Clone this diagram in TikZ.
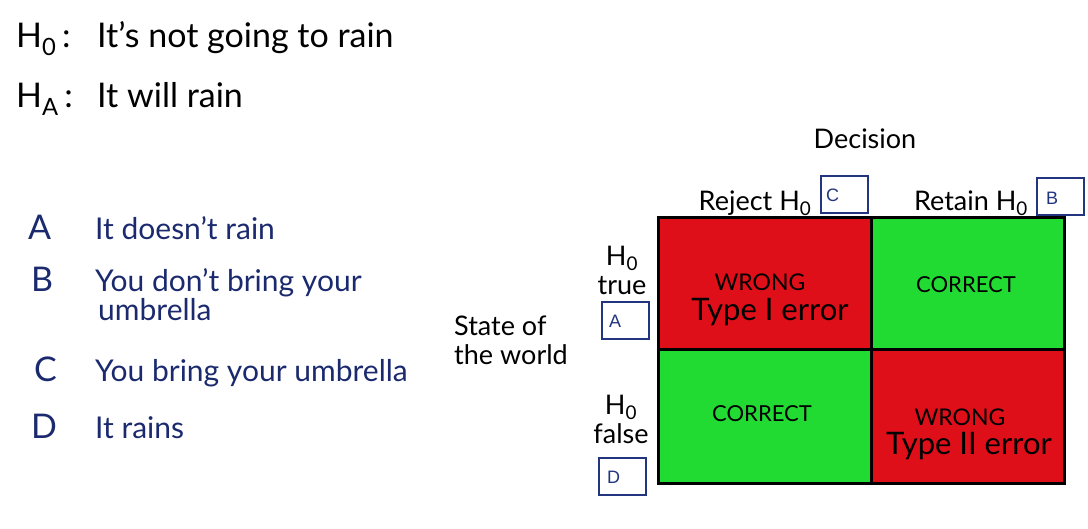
\documentclass[tikz,border=0pt]{standalone}
\usepackage{fontspec}
\setmainfont{Lato}
\setsansfont{Liberation Sans}
\usetikzlibrary{positioning}

\definecolor{inkblue}{HTML}{1B2A6E}
\definecolor{boxblue}{HTML}{22357E}
\definecolor{cellred}{HTML}{DF0F1A}
\definecolor{cellgreen}{HTML}{21DB33}

\tikzset{
  hand/.style={font=\fontsize{27}{29}\selectfont, inner sep=0pt},
  bighand/.style={font=\fontsize{34}{36}\selectfont, inner sep=0pt},
  bluehand/.style={font=\fontsize{30}{32}\selectfont, inner sep=0pt, text=inkblue},
  capshand/.style={font=\fontsize{23}{25}\selectfont, inner sep=0pt, anchor=base},
  errhand/.style={font=\fontsize{31}{33}\selectfont, inner sep=0pt, anchor=base},
  ansbox/.style={draw=boxblue, line width=2pt, fill=white, minimum width=47, minimum height=37, inner sep=0pt},
  boxtext/.style={inner sep=0pt, anchor=base west, text=boxblue, font=\sffamily\fontsize{18}{20}\selectfont},
  cell/.style={draw=black, line width=3pt, anchor=north west, inner sep=0pt}
}

\begin{document}
\begin{tikzpicture}[x=1pt, y=-1pt]
    \useasboundingbox (0,0) rectangle (1088,528);

    % Hypotheses
    \node[bighand, anchor=base west] (hnull) at (16,47) {H\textsubscript{0}\,:};
    \node[bighand, anchor=base west] (hnulltxt) at (97,47) {It's not going to rain};
    \node[bighand, anchor=base west] (halt) at (16,107) {H\textsubscript{A}\,:};
    \node[bighand, anchor=base west] (halttxt) at (97,107) {It will rain};

    % Options
    \node[bluehand, font=\fontsize{34}{36}\selectfont, anchor=base west] (optA) at (28,239) {A};
    \node[bluehand, anchor=base west] (optAtxt) at (95,239) {It doesn't rain};
    \node[bluehand, font=\fontsize{34}{36}\selectfont, anchor=base west] (optB) at (31,291) {B};
    \node[bluehand, anchor=base west] (optBtxt) at (95,291) {You don't bring your};
    \node[bluehand, anchor=base west] (optBtxt2) at (98,320) {umbrella};
    \node[bluehand, font=\fontsize{34}{36}\selectfont, anchor=base west] (optC) at (34,381) {C};
    \node[bluehand, anchor=base west] (optCtxt) at (95,381) {You bring your umbrella};
    \node[bluehand, font=\fontsize{34}{36}\selectfont, anchor=base west] (optD) at (31,438) {D};
    \node[bluehand, anchor=base west] (optDtxt) at (95,438) {It rains};

    % Grid
    \node[cell, fill=cellred, minimum width=213, minimum height=132] (tl) at (657,216) {};
    \node[cell, fill=cellgreen, minimum width=193, minimum height=132] (tr) at (870,216) {};
    \node[cell, fill=cellgreen, minimum width=213, minimum height=134] (bl) at (657,348) {};
    \node[cell, fill=cellred, minimum width=193, minimum height=134] (br) at (870,348) {};

    % Cell labels
    \node[capshand] (tlwrong) at (760,290) {WRONG};
    \node[errhand] (tlerr) at (770,320) {Type I error};
    \node[capshand, font=\fontsize{22}{24}\selectfont] (trok) at (966,292) {CORRECT};
    \node[capshand, font=\fontsize{22}{24}\selectfont] (blok) at (762,421) {CORRECT};
    \node[capshand] (brwrong) at (960,425) {WRONG};
    \node[errhand] (brerr) at (969,454) {Type II error};

    % Headers
    \node[hand] (decision) at (865,139) {Decision};
    \node[hand, anchor=base] (reject) at (755,210) {Reject H\textsubscript{0}};
    \node[hand, anchor=base] (retain) at (971,210) {Retain H\textsubscript{0}};
    \node[hand, align=center] (nulltrue) at (622,270) {H\textsubscript{0}\\true};
    \node[hand, align=center] (nullfalse) at (621,419) {H\textsubscript{0}\\false};
    \node[hand, align=left] (world) at (511,340) {State of\\the world};

    % Answer boxes
    \node[ansbox] (boxC) at (844.5,194.5) {};
    \node[boxtext] (letC) at (826,201) {C};
    \node[ansbox] (boxB) at (1060,196) {};
    \node[boxtext] (letB) at (1046,204) {B};
    \node[ansbox] (boxA) at (625.5,320) {};
    \node[boxtext] (letA) at (609,327) {A};
    \node[ansbox] (boxD) at (622,476.5) {};
    \node[boxtext] (letD) at (607,483) {D};
\end{tikzpicture}
\end{document}
